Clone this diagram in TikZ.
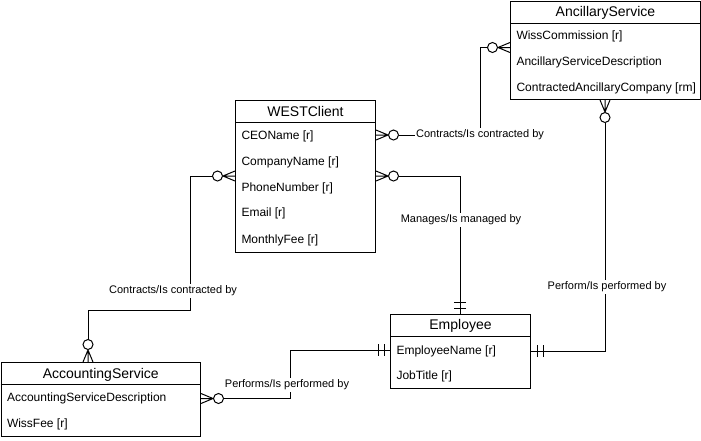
\documentclass[tikz,border=0pt]{standalone}
\usepackage{fontspec}
\setmainfont{Liberation Sans}
\usetikzlibrary{calc}
\begin{document}
\begin{tikzpicture}[x=1pt,y=-1pt,line width=1pt,
  entity/.style={draw,rectangle,anchor=north west,inner sep=0pt},
  hdr/.style={font=\fontsize{14}{16}\selectfont,anchor=center,inner sep=0pt},
  attr/.style={font=\fontsize{12}{14}\selectfont,anchor=west,inner sep=0pt,text height=8.6pt,text depth=2.6pt},
  rel/.style={font=\fontsize{11}{13}\selectfont,fill=white,inner sep=1.5pt},
  conn/.style={draw,line width=1pt},
  zmany/.pic={\draw[line width=1pt] (0,5)--(12,0) (0,0)--(12,0) (0,-5)--(12,0);
              \draw[line width=1pt,fill=white] (17.5,0) circle[radius=5];},
  mone/.pic={\draw[line width=1pt] (6,6)--(6,-6) (12,6)--(12,-6);}]
\useasboundingbox (0,0) rectangle (701,440);

% AncillaryService
\node[entity,minimum width=190pt,minimum height=98pt] (anc) at (510,1) {};
\draw ($(anc.north west)+(0,22)$) -- ($(anc.north east)+(0,22)$);
\node[hdr] (anch) at ($(anc.north)+(0,12)$) {AncillaryService};
\node[attr] (anc1) at ($(anc.north west)+(6,35)$) {WissCommission [r]};
\node[attr] (anc2) at ($(anc.north west)+(6,61)$) {AncillaryServiceDescription};
\node[attr] (anc3) at ($(anc.north west)+(6,87)$) {ContractedAncillaryCompany [rm]};

% WESTClient
\node[entity,minimum width=140pt,minimum height=152pt] (west) at (235,100) {};
\draw ($(west.north west)+(0,22)$) -- ($(west.north east)+(0,22)$);
\node[hdr] (westh) at ($(west.north)+(0,11.5)$) {WESTClient};
\node[attr] (west1) at ($(west.north west)+(6,36)$) {CEOName [r]};
\node[attr] (west2) at ($(west.north west)+(6,62)$) {CompanyName [r]};
\node[attr] (west3) at ($(west.north west)+(6,88)$) {PhoneNumber [r]};
\node[attr] (west4) at ($(west.north west)+(6,113.5)$) {Email [r]};
\node[attr] (west5) at ($(west.north west)+(6,140)$) {MonthlyFee [r]};

% Employee
\node[entity,minimum width=140pt,minimum height=74pt] (emp) at (390,314) {};
\draw ($(emp.north west)+(0,22)$) -- ($(emp.north east)+(0,22)$);
\node[hdr] (emph) at ($(emp.north)+(0,12)$) {Employee};
\node[attr] (emp1) at ($(emp.north west)+(6,37)$) {EmployeeName [r]};
\node[attr] (emp2) at ($(emp.north west)+(6,62)$) {JobTitle [r]};

% AccountingService
\node[entity,minimum width=199.5pt,minimum height=74pt] (acc) at (0.5,362) {};
\draw ($(acc.north west)+(0,22)$) -- ($(acc.north east)+(0,22)$);
\node[hdr] (acch) at ($(acc.north)+(0,13)$) {AccountingService};
\node[attr] (acc1) at ($(acc.north west)+(6,36)$) {AccountingServiceDescription};
\node[attr] (acc2) at ($(acc.north west)+(6,62)$) {WissFee [r]};

% connection points
\coordinate (wr1) at (west.east |- 0,135);
\coordinate (wr2) at (west.east |- 0,176);
\coordinate (wl) at (west.west |- 0,176);
\coordinate (al) at (anc.west |- 0,47.5);
\coordinate (ab) at (anc.south -| 605,0);
\coordinate (et) at (emp.north -| 460,0);
\coordinate (el) at (emp.west |- 0,350);
\coordinate (er) at (emp.east |- 0,351);
\coordinate (at) at (acc.north -| 88,0);
\coordinate (ar) at (acc.east |- 0,398.5);
\coordinate (bend3) at (190,310);
\coordinate (bend4) at (290,398.5);

% connectors
\draw[conn] ([xshift=22.5pt]wr1) -| ([xshift=-30pt]al) -- ([xshift=-22.5pt]al);
\draw[conn] ([xshift=22.5pt]wr2) -| (et);
\draw[conn] ([xshift=-22.5pt]wl) -| (bend3) -| ([yshift=22.5pt]at);
\draw[conn] ([xshift=22.5pt]ar) -- (bend4) |- (el);
\draw[conn] ([yshift=-22.5pt]ab) |- (er);

% cardinality ends
\pic at (wr1) {zmany};
\pic[rotate=180] at (al) {zmany};
\pic at (wr2) {zmany};
\pic[rotate=90] at (et) {mone};
\pic[rotate=180] at (wl) {zmany};
\pic[rotate=90] at (at) {zmany};
\pic at (ar) {zmany};
\pic[rotate=180] at (el) {mone};
\pic[rotate=-90] at (ab) {zmany};
\pic at (er) {mone};

% relationship labels
\node[rel] (r1) at (480,135) {Contracts/Is contracted by};
\node[rel] (r2) at (461,220) {Manages/Is managed by};
\node[rel] (r3) at (173,291) {Contracts/Is contracted by};
\node[rel] (r4) at (287,385) {Performs/Is performed by};
\node[rel] (r5) at (607,287) {Perform/Is performed by};
\end{tikzpicture}
\end{document}
